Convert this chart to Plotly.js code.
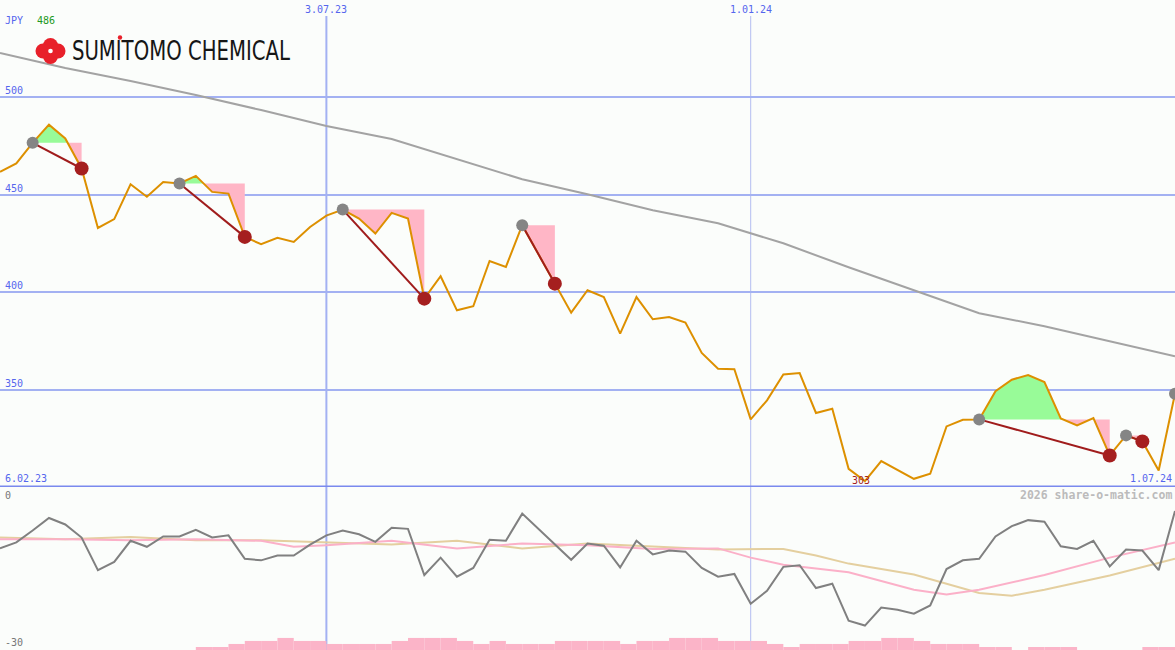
<!DOCTYPE html>
<html>
<head>
<meta charset="utf-8">
<script src="https://cdn.plot.ly/plotly-3.0.1.min.js"></script>
<style>
  html, body { margin: 0; padding: 0; background: #fbfdfb; }
  #chart { width: 1175px; height: 650px; }
</style>
</head>
<body>
<div id="chart"></div>
<script>
// Weekly closing prices (JPY), week 0 .. week 72
const close = [
  461.8, 466.1, 476.7, 486.0, 478.9, 463.5, 433.0, 437.5, 455.4, 449.0,
  456.6, 455.8, 459.7, 451.5, 450.6, 428.4, 424.6, 427.9, 425.8, 433.5,
  439.3, 442.4, 437.8, 430.1, 440.7, 437.8, 396.7, 408.2, 390.7, 392.8,
  416.0, 413.0, 434.4, 419.5, 404.4, 389.5, 401.0, 397.5, 378.7, 397.5,
  386.1, 387.3, 384.4, 368.8, 360.7, 360.5, 334.7, 344.5, 357.8, 358.5,
  338.0, 340.2, 309.3, 303.0, 313.3, 308.8, 304.2, 306.8, 331.1, 334.5,
  334.7, 349.2, 355.1, 357.5, 353.9, 335.2, 331.6, 335.4, 316.2, 326.5,
  323.4, 308.5, 347.9
];

// Long moving average of the price
const maWeeks = [0, 4, 8, 12, 16, 20, 24, 28, 32, 36, 40, 44, 48, 52, 56, 60, 64, 68, 72];
const maValues = [522.8, 515.1, 508.4, 501.2, 493.5, 485.3, 478.6, 468.3, 458.0, 450.3,
                  442.1, 435.4, 425.1, 412.8, 401.0, 389.2, 382.5, 374.8, 367.1];

// Oscillator (lower panel)
const osc = [
  -11.3, -10.2, -8.0, -5.7, -6.9, -9.3, -15.3, -13.8, -9.9, -11.0,
  -9.1, -9.1, -7.9, -9.3, -8.9, -13.2, -13.5, -12.6, -12.6, -10.6,
  -8.9, -8.0, -8.7, -10.1, -7.5, -7.7, -16.2, -13.0, -16.5, -14.9,
  -9.7, -9.9, -4.9, -7.7, -10.6, -13.4, -10.4, -10.8, -14.8, -9.9,
  -12.4, -11.7, -11.9, -14.9, -16.5, -16.0, -21.5, -19.1, -14.7, -14.4,
  -18.6, -17.8, -24.6, -25.5, -22.2, -22.6, -23.3, -21.8, -15.1, -13.5,
  -13.2, -9.1, -7.2, -6.1, -6.4, -10.9, -11.4, -9.9, -14.6, -11.5,
  -11.7, -15.3, -4.4
];
const oscFastWeeks = [0, 4, 8, 12, 16, 18, 20, 24, 28, 32, 36, 40, 44, 46, 48, 52, 56, 58, 60, 64, 68, 72];
const oscFast = [-9.6, -9.6, -9.8, -9.6, -9.9, -11.0, -10.7, -9.9, -11.3, -10.4, -10.7,
                 -11.4, -11.3, -13.0, -14.3, -15.7, -18.9, -19.8, -18.9, -16.2, -13.0, -10.2];
const oscSlowWeeks = [0, 4, 8, 12, 16, 20, 24, 28, 32, 36, 40, 44, 48, 50, 52, 56, 60, 62, 64, 68, 72];
const oscSlow = [-9.3, -9.6, -9.2, -9.8, -9.8, -10.2, -10.6, -9.9, -11.3, -10.4, -10.9,
                 -11.5, -11.4, -12.6, -14.1, -16.1, -19.5, -20.0, -18.9, -16.3, -13.2];

// Weekly activity bars (relative level)
const activity = [
  0, 0, 0, 0, 0, 0, 0, 0, 0, 0, 0, 0,
  1, 1, 2, 3, 3, 4, 3, 3,
  2, 2, 2, 2, 3, 4, 4, 4, 3, 2,
  3, 2, 2, 2, 3, 3, 3, 3, 2, 3,
  3, 4, 4, 4, 3, 3, 3, 2, 1, 2,
  2, 2, 3, 3, 4, 4, 3, 2, 2, 2,
  1, 1, 0, 1, 1, 1, 0, 0, 0, 0,
  1, 1, 1
];

// Swing signals: each peak is followed by its trough
const peakWeeks = [2, 11, 21, 32, 60, 69, 72];
const troughWeeks = [5, 15, 26, 34, 68, 70];

// Axis labels
const priceTicks = [350, 400, 450, 500];
const dateWeeks = [20, 46];
const dateLabels = ['3.07.23', '1.01.24'];
const startLabel = '6.02.23';
const endLabel = '1.07.24';
const currency = 'JPY';
const brand = 'SUMITOMO CHEMICAL';

const weeks = close.map((_, i) => i);
const W = 1175, H = 650;
const px = v => v / W;
const py = v => 1 - v / H;

const BLUE = '#5566ee';
const traces = [];

// Gain / loss bands between each peak and its trough
peakWeeks.forEach((a, n) => {
  if (n >= troughWeeks.length) return;
  const b = troughWeeks[n];
  const L = close[a];
  const up = [], lo = [];
  for (let k = a; k <= b; k++) {
    const p = close[k];
    up.push([k, Math.max(p, L)]);
    lo.push([k, Math.min(p, L)]);
    if (k < b) {
      const q = close[k + 1];
      if ((p - L) * (q - L) < 0) {
        const xc = k + (L - p) / (q - p);
        up.push([xc, L]);
        lo.push([xc, L]);
      }
    }
  }
  [[up, '#98fb98'], [lo, '#ffb6c6']].forEach(([pts, col]) => {
    traces.push({
      type: 'scatter', mode: 'lines', xaxis: 'x', yaxis: 'y',
      x: pts.map(p => p[0]).concat([b, a]),
      y: pts.map(p => p[1]).concat([L, L]),
      fill: 'toself', fillcolor: col, line: { width: 0 },
      hoverinfo: 'skip', showlegend: false
    });
  });
});

// Moving average
traces.push({
  type: 'scatter', mode: 'lines', x: maWeeks, y: maValues,
  line: { color: '#a3a3a3', width: 2 }, hoverinfo: 'skip', showlegend: false
});

// Price line
traces.push({
  type: 'scatter', mode: 'lines', x: weeks, y: close,
  line: { color: '#dd9000', width: 2 }, hoverinfo: 'skip', showlegend: false
});

// Peak-to-trough connectors
peakWeeks.forEach((a, n) => {
  if (n >= troughWeeks.length) return;
  const b = troughWeeks[n];
  traces.push({
    type: 'scatter', mode: 'lines', x: [a, b], y: [close[a], close[b]],
    line: { color: '#a01c1c', width: 2 }, hoverinfo: 'skip', showlegend: false
  });
});

// Signal dots
traces.push({
  type: 'scatter', mode: 'markers', x: peakWeeks, y: peakWeeks.map(i => close[i]),
  marker: { color: '#858585', size: 12 }, hoverinfo: 'skip', showlegend: false
});
traces.push({
  type: 'scatter', mode: 'markers', x: troughWeeks, y: troughWeeks.map(i => close[i]),
  marker: { color: '#a51f1f', size: 14 }, hoverinfo: 'skip', showlegend: false
});

// Lower panel
traces.push({
  type: 'bar', x: weeks, y: activity, xaxis: 'x', yaxis: 'y3',
  width: 1, offset: 0, marker: { color: '#fbb4c8', line: { width: 0 } },
  hoverinfo: 'skip', showlegend: false
});
traces.push({
  type: 'scatter', mode: 'lines', x: oscSlowWeeks, y: oscSlow, yaxis: 'y2',
  line: { color: '#e4cf9f', width: 2 }, hoverinfo: 'skip', showlegend: false
});
traces.push({
  type: 'scatter', mode: 'lines', x: oscFastWeeks, y: oscFast, yaxis: 'y2',
  line: { color: '#fbb0c8', width: 2 }, hoverinfo: 'skip', showlegend: false
});
traces.push({
  type: 'scatter', mode: 'lines', x: weeks, y: osc, yaxis: 'y2',
  line: { color: '#808080', width: 2 }, hoverinfo: 'skip', showlegend: false
});

const mono = 'DejaVu Sans Mono, monospace';
const hi = Math.max(...close);
const loIdx = close.indexOf(Math.min(...close));

const annotations = [];
priceTicks.forEach(v => annotations.push({
  xref: 'paper', yref: 'y', x: px(4), y: v, xanchor: 'left', yanchor: 'bottom',
  text: String(v), showarrow: false, font: { family: mono, size: 10, color: BLUE }, borderpad: 0
}));
dateWeeks.forEach((w, i) => annotations.push({
  xref: 'x', yref: 'paper', x: w, y: py(3), xanchor: 'center', yanchor: 'top',
  text: dateLabels[i], showarrow: false, font: { family: mono, size: 10, color: BLUE }, borderpad: 0
}));
annotations.push({
  xref: 'paper', yref: 'y', x: px(4), y: 300, xanchor: 'left', yanchor: 'bottom', yshift: 2,
  text: startLabel, showarrow: false, font: { family: mono, size: 10, color: BLUE }, borderpad: 0
});
annotations.push({
  xref: 'paper', yref: 'y', x: px(1173), y: 300, xanchor: 'right', yanchor: 'bottom', yshift: 2,
  text: endLabel, showarrow: false, font: { family: mono, size: 10, color: BLUE }, borderpad: 0
});
annotations.push({
  xref: 'x', yref: 'y', x: loIdx, y: close[loIdx], xanchor: 'center', yanchor: 'middle', xshift: -4, yshift: 1,
  text: String(Math.round(close[loIdx])), showarrow: false,
  font: { family: mono, size: 10, color: '#a51f1f' }, borderpad: 0
});
annotations.push({
  xref: 'paper', yref: 'paper', x: px(4), y: py(20), xanchor: 'left', yanchor: 'middle',
  text: currency, showarrow: false, font: { family: mono, size: 10, color: BLUE }, borderpad: 0
});
annotations.push({
  xref: 'paper', yref: 'paper', x: px(36), y: py(20), xanchor: 'left', yanchor: 'middle',
  text: String(Math.round(hi)), showarrow: false, font: { family: mono, size: 10, color: '#229922' }, borderpad: 0
});
annotations.push({
  xref: 'paper', yref: 'paper', x: px(4), y: py(495), xanchor: 'left', yanchor: 'middle',
  text: '0', showarrow: false, font: { family: mono, size: 10, color: '#777777' }, borderpad: 0
});
annotations.push({
  xref: 'paper', yref: 'paper', x: px(4), y: py(642), xanchor: 'left', yanchor: 'middle',
  text: '-30', showarrow: false, font: { family: mono, size: 10, color: '#777777' }, borderpad: 0
});
annotations.push({
  xref: 'paper', yref: 'paper', x: px(1173), y: py(495), xanchor: 'right', yanchor: 'middle',
  text: '<b>2026 share-o-matic.com</b>', showarrow: false,
  font: { family: mono, size: 11.5, color: '#bbbbbb' }, borderpad: 0
});
annotations.push({
  xref: 'paper', yref: 'paper', x: px(181), y: py(51), xanchor: 'center', yanchor: 'middle',
  text: brand, showarrow: false,
  font: { family: 'DejaVu Sans, sans-serif', size: 26, color: '#161616' },
  borderpad: 0
});

// Logo emblem and reference lines
const shapes = [];
const dot = (cx, cy, r, col) => ({
  type: 'circle', xref: 'paper', yref: 'paper', xsizemode: 'pixel', ysizemode: 'pixel',
  xanchor: px(cx), yanchor: py(cy), x0: -r, x1: r, y0: -r, y1: r,
  fillcolor: col, line: { width: 0 }, layer: 'above'
});
shapes.push(dot(50.5, 45.5, 7.5, '#e8202a'));
shapes.push(dot(50.5, 56.5, 7.5, '#e8202a'));
shapes.push(dot(43, 51, 7.5, '#e8202a'));
shapes.push(dot(58, 51, 7.5, '#e8202a'));
shapes.push(dot(50.5, 51, 2.3, '#ffffff'));
shapes.push(dot(120, 37.5, 2.2, '#e8202a'));

dateWeeks.forEach((w, i) => shapes.push({
  type: 'line', xref: 'x', yref: 'paper', x0: w, x1: w, y0: 0, y1: py(16),
  line: { color: i === 0 ? '#a3b1f2' : '#b3bdf0', width: i === 0 ? 2 : 1 }, layer: 'below'
}));
shapes.push({
  type: 'line', xref: 'paper', yref: 'y', x0: 0, x1: 1, y0: 300, y1: 300,
  line: { color: '#7a89ee', width: 3 }, layer: 'below'
});

const layout = {
  width: W, height: H,
  margin: { l: 0, r: 0, t: 0, b: 0, pad: 0 },
  paper_bgcolor: '#fbfdfb', plot_bgcolor: '#fbfdfb',
  showlegend: false,
  xaxis: { range: [0, 72], showgrid: false, zeroline: false, showticklabels: false, showline: false, ticks: '', fixedrange: true },
  yaxis: {
    domain: [1 - 487 / H, 1], range: [300, 550], tickvals: priceTicks,
    showgrid: true, gridcolor: '#a3b1f2', gridwidth: 2,
    zeroline: false, showticklabels: false, showline: false, ticks: '', fixedrange: true
  },
  yaxis2: {
    domain: [0, 1 - 487 / H], range: [-30, 0], showgrid: false, zeroline: false,
    showticklabels: false, showline: false, ticks: '', fixedrange: true
  },
  yaxis3: {
    overlaying: 'y2', range: [0, 54], visible: false, fixedrange: true
  },
  annotations, shapes
};

Plotly.newPlot('chart', traces, layout, { displayModeBar: false, staticPlot: true }).then(gd => {
  // Condense the brand wordmark to its logotype width
  gd.querySelectorAll('.annotation-text').forEach(t => {
    if (t.textContent === brand) {
      t.setAttribute('textLength', '218');
      t.setAttribute('lengthAdjust', 'spacingAndGlyphs');
    }
  });
});
</script>
</body>
</html>
